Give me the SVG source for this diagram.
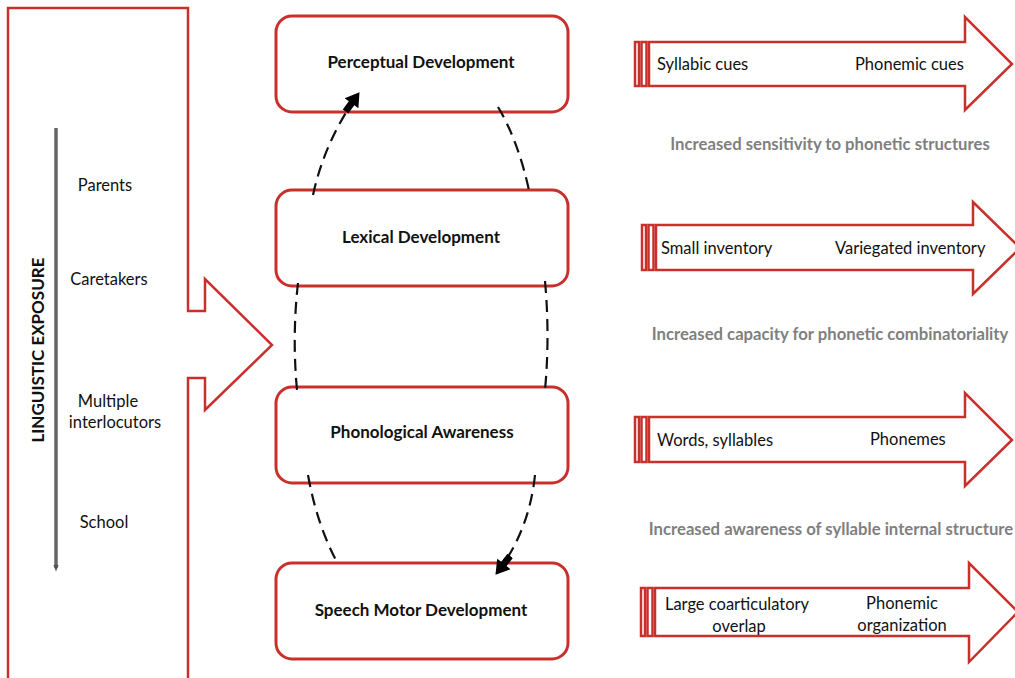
<svg xmlns="http://www.w3.org/2000/svg" width="1015" height="678" viewBox="0 0 1015 678">
<style>
.red{fill:#fff;stroke:#c9302c;stroke-width:2.5}
.box{fill:#fff;stroke:#c9302c;stroke-width:3}
.t{font-family:Lato,"Open Sans",sans-serif;font-size:16.5px;fill:#111}
.b{font-family:Lato,"Open Sans",sans-serif;font-size:17px;font-weight:bold;fill:#111}
.s{font-family:Lato,"Open Sans",sans-serif;font-size:16.7px;font-weight:bold;fill:#7f7f7f}
.dash{fill:none;stroke:#111;stroke-width:2.2;stroke-dasharray:12,7}
</style>
<defs>
<marker id="ah" viewBox="0 0 14 10" refX="13.5" refY="5" markerUnits="userSpaceOnUse" markerWidth="24" markerHeight="17" orient="auto">
<path d="M0,3 H6 V0 L14,5 L6,10 V7 H0 z" fill="#000"/>
</marker>
<marker id="gh" viewBox="0 0 10 10" refX="5" refY="5" markerUnits="userSpaceOnUse" markerWidth="7" markerHeight="7" orient="auto">
<path d="M0,1 L10,5 L0,9 z" fill="#555"/>
</marker>
</defs>
<rect width="1015" height="678" fill="#fff"/>

<g id="exposure">
<path class="red" d="M8,8 H188 V311 H205 V279 L272,345 L205,410 V378 H188 V690 H8 Z"/>
<line x1="56" y1="128" x2="56" y2="568" stroke="#666" stroke-width="3.5" marker-end="url(#gh)"/>
<text class="b" transform="translate(44,350) rotate(-90)" text-anchor="middle">LINGUISTIC EXPOSURE</text>
<text class="t" x="105" y="191" text-anchor="middle">Parents</text>
<text class="t" x="109" y="285" text-anchor="middle">Caretakers</text>
<text class="t" x="108" y="407" text-anchor="middle">Multiple</text>
<text class="t" x="115" y="428" text-anchor="middle">interlocutors</text>
<text class="t" x="104" y="528" text-anchor="middle">School</text>
</g>

<g id="perceptual">
<rect class="box" x="276" y="16" width="292" height="96" rx="16"/>
<text class="b" x="421" y="68" text-anchor="middle">Perceptual Development</text>
</g>
<g id="lexical">
<rect class="box" x="276" y="190" width="292" height="96" rx="16"/>
<text class="b" x="421" y="243" text-anchor="middle">Lexical Development</text>
</g>
<g id="phonological">
<rect class="box" x="276" y="387" width="292" height="96" rx="16"/>
<text class="b" x="422" y="438" text-anchor="middle">Phonological Awareness</text>
</g>
<g id="speechmotor">
<rect class="box" x="276" y="563" width="292" height="96" rx="16"/>
<text class="b" x="421" y="616" text-anchor="middle">Speech Motor Development</text>
</g>

<g id="connectors">
<path class="dash" d="M313,195 Q325,140 359,93" marker-end="url(#ah)"/>
<path class="dash" d="M498,107 Q519,142 530,195"/>
<path class="dash" d="M298,283 Q292,336 297,390"/>
<path class="dash" d="M545,281 Q550,336 545,390"/>
<path class="dash" d="M308,475 Q317,525 337,562"/>
<path class="dash" d="M535,475 Q529,532 496,574" marker-end="url(#ah)"/>
</g>

<g id="arrow1">
<rect class="red" x="635" y="42" width="4" height="44" stroke-width="2"/>
<rect class="red" x="641.5" y="42" width="5" height="44" stroke-width="2"/>
<path class="red" d="M649,42 H965 V17 L1012,64 L965,110 V86 H649 Z"/>
<text class="t" x="657" y="70">Syllabic cues</text>
<text class="t" x="855" y="70">Phonemic cues</text>
</g>
<text class="s" x="830" y="150" text-anchor="middle">Increased sensitivity to phonetic structures</text>

<g id="arrow2">
<rect class="red" x="642" y="225" width="4" height="45" stroke-width="2"/>
<rect class="red" x="648.5" y="225" width="5" height="45" stroke-width="2"/>
<path class="red" d="M656,225 H973 V202 L1020,248 L973,294 V270 H656 Z"/>
<text class="t" x="661" y="254">Small inventory</text>
<text class="t" x="835" y="254">Variegated inventory</text>
</g>
<text class="s" x="830" y="340" text-anchor="middle">Increased capacity for phonetic combinatoriality</text>

<g id="arrow3">
<rect class="red" x="635" y="417" width="4" height="45" stroke-width="2"/>
<rect class="red" x="641.5" y="417" width="5" height="45" stroke-width="2"/>
<path class="red" d="M649,417 H965 V393 L1012,440 L965,486 V462 H649 Z"/>
<text class="t" x="657" y="446">Words, syllables</text>
<text class="t" x="870" y="445">Phonemes</text>
</g>
<text class="s" x="831" y="535" text-anchor="middle">Increased awareness of syllable internal structure</text>

<g id="arrow4">
<rect class="red" x="641" y="588" width="4" height="48" stroke-width="2"/>
<rect class="red" x="647.5" y="588" width="5" height="48" stroke-width="2"/>
<path class="red" d="M655,588 H969 V563 L1018,612 L969,662 V636 H655 Z"/>
<text class="t" x="737" y="610" text-anchor="middle">Large coarticulatory</text>
<text class="t" x="739" y="632" text-anchor="middle">overlap</text>
<text class="t" x="902" y="609" text-anchor="middle">Phonemic</text>
<text class="t" x="902" y="631" text-anchor="middle">organization</text>
</g>
</svg>
